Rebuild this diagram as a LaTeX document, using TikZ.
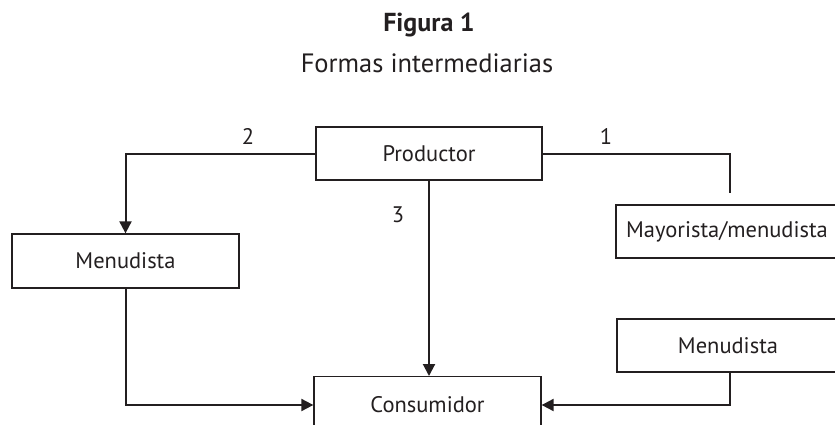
\documentclass[tikz,border=0pt]{standalone}
\usepackage{fontspec}
\setmainfont{PT Sans}
\usetikzlibrary{arrows.meta}
\definecolor{ink}{HTML}{231F20}
\begin{document}
\begin{tikzpicture}[x=1pt,y=-1pt,
  box/.style={draw=ink,line width=1.3pt,rectangle,inner sep=0pt,text=ink,font=\fontsize{22.5}{26}\selectfont},
  conn/.style={draw=ink,line width=2pt},
  arr/.style={conn,-{Triangle[length=12pt,width=12pt]}},
  lbl/.style={text=ink,font=\fontsize{22.5}{26}\selectfont,inner sep=0pt}]
\useasboundingbox (0,0) rectangle (835,424);
\begin{scope}
\clip (0,0) rectangle (835,424);
\node[text=ink,font=\bfseries\fontsize{26}{30}\selectfont] (fig) at (429,25) {Figura 1};
\node[text=ink,font=\fontsize{26.5}{30}\selectfont] (sub) at (427,63) {Formas intermediarias};
\node[box,minimum width=226pt,minimum height=53pt] (prod) at (429,153.5) {Productor};
\node[box,minimum width=227pt,minimum height=54pt] (menL) at (125.5,261) {Menudista};
\node[box,minimum width=222pt,minimum height=53pt] (mayo) at (727,231.5) {Mayorista/menudista};
\node[box,minimum width=222pt,minimum height=53pt] (menR) at (728,345.5) {Menudista};
\node[box,minimum width=227pt,minimum height=56pt,anchor=north] (cons) at (427.5,376) {};
\node[lbl] (consT) at (427.5,405) {Consumidor};
\coordinate (c1) at (730,193);
\draw[conn] (prod.east) -| (c1);
\draw[arr] (prod.west) -| (menL.north);
\draw[arr] (prod.south) -- (prod.south |- cons.north);
\draw[arr] (menL.south) |- (cons.west |- consT);
\draw[arr] (menR.south -| c1) |- (cons.east |- consT);
\node[lbl] (l1) at (606,136) {1};
\node[lbl] (l2) at (248,136) {2};
\node[lbl] (l3) at (398,215) {3};
\end{scope}
\end{tikzpicture}
\end{document}
